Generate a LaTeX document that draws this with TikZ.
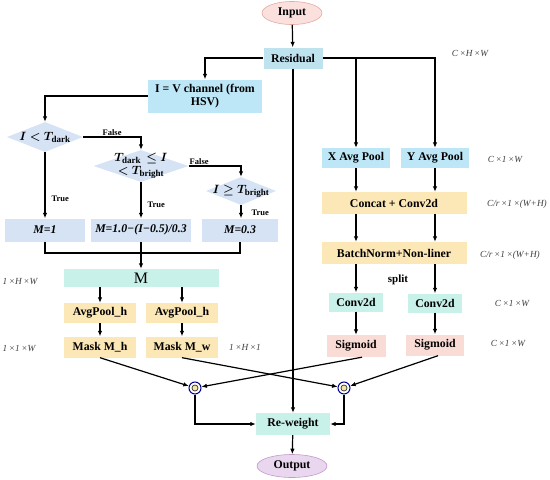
\documentclass[tikz,border=0pt]{standalone}
\usepackage{fontspec}
\setmainfont{Liberation Serif}
\usepackage{amsmath}
\usepackage{bm}
\usepackage{xcolor}
\usepackage{tikz}
\usetikzlibrary{arrows.meta,positioning,shapes.geometric}

\definecolor{resblue}{HTML}{BFE2EF}
\definecolor{ivblue}{HTML}{BDE7F7}
\definecolor{diablue}{HTML}{D5E3F4}
\definecolor{mint}{HTML}{C8F1E9}
\definecolor{wheat}{HTML}{FCE7B6}
\definecolor{rose}{HTML}{FADCD6}
\definecolor{infill}{HTML}{FBE1DE}
\definecolor{indraw}{HTML}{E6A9A2}
\definecolor{outfill}{HTML}{E9D6EF}
\definecolor{outdraw}{HTML}{C39BCB}
\definecolor{dimgray}{HTML}{404040}
\definecolor{dotyellow}{HTML}{F6E7A6}

\newcommand{\subbf}[1]{\text{\fontsize{9}{9}\selectfont\bfseries #1}}

\begin{document}
\begin{tikzpicture}[
  x=1pt, y=-1pt,
  box/.style={align=center, inner sep=1pt, font=\fontsize{11.8}{13}\selectfont\bfseries},
  cyanbox/.style={box, fill=ivblue},
  dia/.style={diamond, fill=diablue, inner sep=0pt},
  mbox/.style={box, fill=diablue, font=\fontsize{11.8}{13}\selectfont\bfseries\itshape},
  mintbox/.style={box, fill=mint},
  wheatbox/.style={box, fill=wheat},
  rosebox/.style={box, fill=rose},
  term/.style={ellipse, box, minimum width=60pt, minimum height=23pt, line width=0.6pt},
  dim/.style={font=\fontsize{9.3}{10}\selectfont\itshape, text=dimgray},
  tag/.style={font=\fontsize{8.5}{10}\selectfont\bfseries, inner sep=1pt},
  diatext/.style={font=\fontsize{12}{13}\selectfont, align=center},
  arrow/.style={-{Latex[length=5.5pt,width=4.5pt]}, line width=1.2pt},
  line/.style={line width=1.2pt},
  odot/.style={circle, draw=blue!55!black, fill=white, minimum size=12pt, inner sep=0pt, line width=1pt,
    path picture={\filldraw[fill=dotyellow, draw=black!80, line width=0.7pt] (path picture bounding box.center) circle (3pt);}}
]
\useasboundingbox (0,0) rectangle (550,480);

% main trunk
\node[term, fill=infill, draw=indraw] (in) at (292,13) {Input};
\node[cyanbox, fill=resblue, minimum width=59pt, minimum height=21pt] (res) at (293,58) {Residual};
\node[mintbox, minimum width=74pt, minimum height=22pt] (rw) at (293,424) {Re-weight};
\node[term, fill=outfill, draw=outdraw, minimum width=70pt] (out) at (292,466) {Output};

% left branch: brightness mask
\node[cyanbox, minimum width=114pt, minimum height=33pt] (iv) at (205,96) {I = V channel (from\\HSV)};
\node[dia, minimum width=76pt, minimum height=30pt,
  label={[diatext]center:$\bm{I<T}_{\subbf{dark}}$}] (d1) at (45,137) {};
\node[dia, minimum width=95pt, minimum height=32pt,
  label={[diatext]center:{$\bm{T}_{\subbf{dark}}\,\bm{\le I}$\\$\bm{<T}_{\subbf{bright}}$}}] (d2) at (141,166) {};
\node[dia, minimum width=70pt, minimum height=28pt,
  label={[diatext]center:$\bm{I\ge T}_{\subbf{bright}}$}] (d3) at (241,191) {};

\node[mbox, minimum width=80pt, minimum height=23pt] (m1) at (45,230) {M=1};
\node[mbox, minimum width=100pt, minimum height=23pt] (m2) at (141,230) {M=1.0−(I−0.5)/0.3};
\node[mbox, minimum width=76pt, minimum height=23pt] (m3) at (240,230) {M=0.3};
\coordinate (join) at (141,253);

\node[mintbox, minimum width=155pt, minimum height=18pt, font=\fontsize{16}{18}\selectfont] (mm) at (141,278) {M};
\node[wheatbox, minimum width=72pt, minimum height=20pt] (ap1) at (100,313) {AvgPool\_h};
\node[wheatbox, minimum width=72pt, minimum height=20pt] (ap2) at (182,313) {AvgPool\_h};
\node[wheatbox, minimum width=72pt, minimum height=21pt] (mk1) at (100,347) {Mask M\_h};
\node[wheatbox, minimum width=72pt, minimum height=21pt] (mk2) at (182,347) {Mask M\_w};

% right branch: coordinate attention
\node[cyanbox, minimum width=68pt, minimum height=20pt] (xp) at (356,158) {X Avg Pool};
\node[cyanbox, minimum width=68pt, minimum height=20pt] (yp) at (435,158) {Y Avg Pool};
\node[wheatbox, minimum width=145pt, minimum height=22pt] (cc) at (394,203) {Concat + Conv2d};
\node[wheatbox, minimum width=145pt, minimum height=22pt] (bn) at (394,253) {BatchNorm+Non-liner};
\node[mintbox, minimum width=54pt, minimum height=19pt] (cv1) at (356,302) {Conv2d};
\node[mintbox, minimum width=54pt, minimum height=19pt] (cv2) at (435,303) {Conv2d};
\node[rosebox, minimum width=59pt, minimum height=22pt] (sg1) at (356,346) {Sigmoid};
\node[rosebox, minimum width=58pt, minimum height=21pt] (sg2) at (435,345) {Sigmoid};
\node[tag, font=\fontsize{11}{12}\selectfont\bfseries] (split) at (398,280) {split};

\node[odot] (o1) at (195,388) {};
\node[odot] (o2) at (344,388) {};

% shape labels
\node[dim] (s1) at (470,53) {C\,×H\,×W};
\node[dim] (s2) at (505,159) {C\,×\textit{1}\,×W};
\node[dim] (s3) at (517,204) {C/r\,×\textit{1}\,×(W+H)};
\node[dim] (s4) at (510,255) {C/r\,×\textit{1}\,×(W+H)};
\node[dim] (s5) at (512,303) {C\,×\textit{1}\,×W};
\node[dim] (s6) at (508,343) {C\,×\textit{1}\,×W};
\node[dim] (s7) at (20,281) {\textit{1}\,×H\,×W};
\node[dim] (s8) at (19,348) {\textit{1}\,×\textit{1}\,×W};
\node[dim] (s9) at (245,347) {\textit{1}\,×H\,×\textit{1}};

% connectors
\draw[arrow] (in) -- (res);
\draw[arrow] (res.west) -| (iv.north);
\draw[arrow] (res.east) -| (yp.north);
\draw[arrow] (res.east -| xp.north) -- (xp.north);
\draw[arrow] (res) -- (rw);
\draw[arrow] (rw) -- (out);

\draw[arrow] (iv.west) -| (d1.north);
\draw[arrow] (d1.east) -| node[tag, above, pos=.25] (f1) {False} (d2.north);
\draw[arrow] (d2.east) -| node[tag, above, pos=.1] (f2) {False} (d3.north);
\draw[arrow] (d1.south) -- node[tag, right=5pt, pos=.7] (t1) {True} (m1.north);
\draw[arrow] (d2.south) -- node[tag, right=5pt, pos=.62] (t2) {True} (m2.north);
\draw[arrow] (d3.south) -- node[tag, right=9pt, pos=.6] (t3) {True} (d3.south |- m3.north);

\draw[line] (m1.south) |- (join) -| (m3.south);
\draw[arrow] (m2.south) -- (mm.north);
\draw[arrow] (mm.south -| ap1.north) -- (ap1.north);
\draw[arrow] (mm.south -| ap2.north) -- (ap2.north);
\draw[arrow] (ap1) -- (mk1);
\draw[arrow] (ap2) -- (mk2);

\draw[arrow] (xp.south) -- (xp.south |- cc.north);
\draw[arrow] (yp.south) -- (yp.south |- cc.north);
\draw[arrow] (cc.south -| xp.south) -- (bn.north -| xp.south);
\draw[arrow] (cc.south -| yp.south) -- (bn.north -| yp.south);
\draw[arrow] (bn.south -| cv1.north) -- (cv1.north);
\draw[arrow] (bn.south -| cv2.north) -- (cv2.north);
\draw[arrow] (cv1) -- (sg1);
\draw[arrow] (cv2) -- (sg2);

\draw[arrow] (mk1.south) -- (o1);
\draw[arrow] (mk2.south) -- (o2);
\draw[arrow] ([xshift=6pt]sg1.south) -- (o1);
\draw[arrow] ([xshift=3pt]sg2.south) -- (o2);
\draw[arrow] (o1.south) |- (rw.west);
\draw[arrow] (o2.south) |- (rw.east);
\end{tikzpicture}
\end{document}
